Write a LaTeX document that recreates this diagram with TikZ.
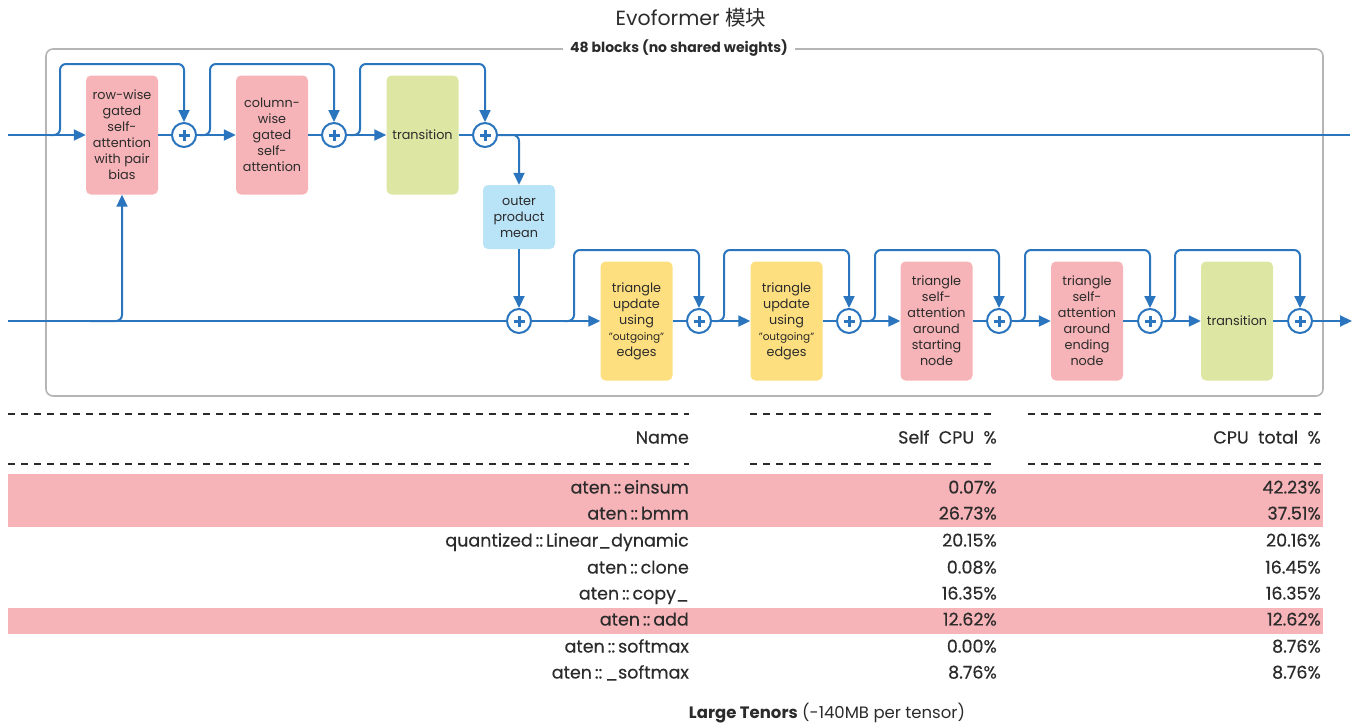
\documentclass[tikz,border=0pt]{standalone}
\usepackage{fontspec}
\setmainfont{Poppins}
\newfontfamily\medfont[FakeBold=0.35]{Poppins}
\newfontfamily\cjk{Noto Sans CJK SC}
\usetikzlibrary{arrows.meta,calc}
\definecolor{flow}{HTML}{2A75BD}
\definecolor{pinkbox}{HTML}{F7B4B8}
\definecolor{greenbox}{HTML}{DDE7A3}
\definecolor{bluebox}{HTML}{B9E3F7}
\definecolor{yellowbox}{HTML}{FDDF7F}
\definecolor{txt}{HTML}{2B2B2B}
\definecolor{framec}{HTML}{B5B5B5}
\begin{document}
\begin{tikzpicture}[x=1pt,y=-1pt,
  blk/.style={rounded corners=5pt, minimum width=72pt, minimum height=119pt, align=center, text=txt,
    font=\fontsize{12.8}{16}\selectfont, inner sep=0pt},
  line/.style={draw=flow, line width=2pt},
  conn/.style={line, -{Triangle[length=12pt,width=11pt]}},
  skip/.style={conn, rounded corners=6pt},
  plus/.style={circle, draw=flow, fill=white, line width=2pt, minimum size=24pt, inner sep=0pt,
    path picture={\draw[flow,line width=3pt] (path picture bounding box.center) ++(-5.5pt,0) -- ++(11pt,0);
                  \draw[flow,line width=3pt] (path picture bounding box.center) ++(0,-5.5pt) -- ++(0,11pt);}},
  cell/.style={anchor=east, inner sep=0pt, text=txt, font=\medfont\fontsize{17.5}{19}\selectfont, text height=12.5pt, text depth=3.5pt},
  dashline/.style={draw=txt, line width=1.4pt, dash pattern=on 7pt off 6pt}
]
\useasboundingbox (0,0) rectangle (1359,726);

% title and frame
\node[text=txt, font=\fontsize{20.5}{22}\selectfont] (title) at (691,18) {Evoformer {\cjk 模块}};
\node[draw=framec, line width=1.6pt, rounded corners=7pt, minimum width=1277pt, minimum height=347pt, inner sep=0pt] (frame) at (684.5,222.5) {};
\node[fill=white, text=txt, inner xsep=7pt, inner ysep=1pt, font=\bfseries\fontsize{14}{16}\selectfont] (flabel) at (679,48.5) {48 blocks (no shared weights)};

% top row
\node[blk, fill=pinkbox] (rw) at (122,135) {row-wise\\gated\\self-\\attention\\with pair\\bias};
\node[blk, fill=pinkbox] (cw) at (272,135) {column-\\wise\\gated\\self-\\attention};
\node[blk, fill=greenbox] (tr1) at (422.5,135) {transition};
\node[plus] (p1) at (184,135) {};
\node[plus] (p2) at (334,135) {};
\node[plus] (p3) at (485,135) {};
\node[blk, fill=bluebox, minimum height=64pt] (opm) at (519,217) {outer\\product\\mean};

% bottom row
\node[blk, fill=yellowbox] (tu1) at (636.5,321) {triangle\\update\\using\\{\fontsize{10.5}{16}\selectfont "outgoing"}\\edges};
\node[blk, fill=yellowbox] (tu2) at (786.5,321) {triangle\\update\\using\\{\fontsize{10.5}{16}\selectfont "outgoing"}\\edges};
\node[blk, fill=pinkbox] (ts) at (936.5,321) {triangle\\self-\\attention\\around\\starting\\node};
\node[blk, fill=pinkbox] (te) at (1087,321) {triangle\\self-\\attention\\around\\ending\\node};
\node[blk, fill=greenbox] (tr2) at (1237,321) {transition};
\node[plus] (q0) at (519,321) {};
\node[plus] (q1) at (699,321) {};
\node[plus] (q2) at (849,321) {};
\node[plus] (q3) at (999,321) {};
\node[plus] (q4) at (1150,321) {};
\node[plus] (q5) at (1300,321) {};

\coordinate (inA) at (8,135);
\coordinate (inB) at (8,321);
\coordinate (outA) at (1350,135);
\coordinate (outB) at (1352,321);

% top connections
\draw[conn] (inA) -- (rw);
\draw[line] (rw) -- (p1);
\draw[conn] (p1) -- (cw);
\draw[line] (cw) -- (p2);
\draw[conn] (p2) -- (tr1);
\draw[line] (tr1) -- (p3);
\draw[line] (p3) -- (outA);
\coordinate (b1) at (50,135);  \coordinate (s1) at (60,64);
\coordinate (b2) at (200,135); \coordinate (s2) at (210,64);
\coordinate (b3) at (350,135); \coordinate (s3) at (360,64);
\draw[skip] (b1) -| (s1) -| (p1);
\draw[skip] (b2) -| (s2) -| (p2);
\draw[skip] (b3) -| (s3) -| (p3);
\draw[skip] (p3) -| (opm);
\draw[conn] (opm) -- (q0);

% bottom connections
\coordinate (b0) at (90,321);
\draw[line] (inB) -- (q0);
\draw[skip] (b0) -| (rw);
\draw[conn] (q0) -- (tu1);
\draw[line] (tu1) -- (q1);
\draw[conn] (q1) -- (tu2);
\draw[line] (tu2) -- (q2);
\draw[conn] (q2) -- (ts);
\draw[line] (ts) -- (q3);
\draw[conn] (q3) -- (te);
\draw[line] (te) -- (q4);
\draw[conn] (q4) -- (tr2);
\draw[line] (tr2) -- (q5);
\draw[conn] (q5) -- (outB);
\coordinate (c1) at (564,321);  \coordinate (d1) at (574,250);
\coordinate (c2) at (714,321);  \coordinate (d2) at (724,250);
\coordinate (c3) at (865,321);  \coordinate (d3) at (875,250);
\coordinate (c4) at (1015,321); \coordinate (d4) at (1025,250);
\coordinate (c5) at (1165,321); \coordinate (d5) at (1175,250);
\draw[skip] (c1) -| (d1) -| (q1);
\draw[skip] (c2) -| (d2) -| (q2);
\draw[skip] (c3) -| (d3) -| (q3);
\draw[skip] (c4) -| (d4) -| (q4);
\draw[skip] (c5) -| (d5) -| (q5);

% table
\fill[pinkbox] (8,474) rectangle (1323,527);
\fill[pinkbox] (8,608) rectangle (1323,634);
\foreach \y in {414,464}{
  \draw[dashline] (8,\y) -- (689,\y);
  \draw[dashline] (750,\y) -- (997,\y);
  \draw[dashline] (1028,\y) -- (1323,\y);
}
\node[cell] (hname) at (689,439) {Name};
\node[cell] (hself) at (997,439) {Self\ \ CPU\ \ \%};
\node[cell] (htot) at (1321,439) {CPU\ \ total\ \ \%};
\foreach \n/\a/\b/\y [count=\i] in {
  {aten\,::\,einsum}/0.07\%/42.23\%/489,
  {aten\,::\,bmm}/26.73\%/37.51\%/515,
  {quantized\,::\,Linear\_dynamic}/20.15\%/20.16\%/542,
  {aten\,::\,clone}/0.08\%/16.45\%/569,
  {aten\,::\,copy\_}/16.35\%/16.35\%/595,
  {aten\,::\,add}/12.62\%/12.62\%/621,
  {aten\,::\,softmax}/0.00\%/8.76\%/648,
  {aten\,::\,\_softmax}/8.76\%/8.76\%/674}{
  \node[cell] (name\i) at (689,\y) {\n};
  \node[cell] (self\i) at (997,\y) {\a};
  \node[cell] (tot\i) at (1321,\y) {\b};
}
\node[text=txt, font=\fontsize{16.5}{18}\selectfont] (foot) at (827,713) {{\bfseries Large Tenors} (-140MB per tensor)};
\end{tikzpicture}
\end{document}
